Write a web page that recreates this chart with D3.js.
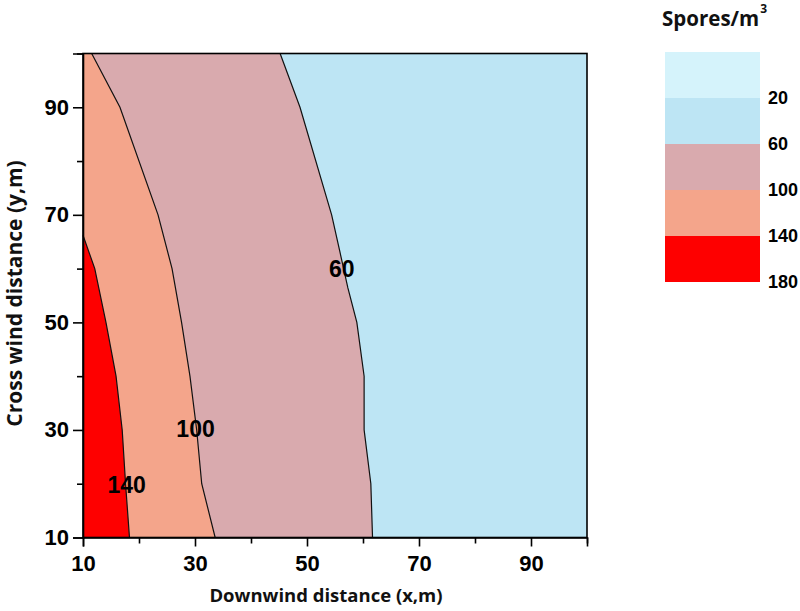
<!DOCTYPE html>
<html>
<head>
<meta charset="utf-8">
<script src="https://cdn.jsdelivr.net/npm/d3@7"></script>
<style>
  html, body { margin: 0; padding: 0; background: #ffffff; }
  svg { display: block; }
</style>
</head>
<body>
<svg id="chart" width="800" height="611"></svg>
<script>
// ---- data ----
const xTickValues = [10, 30, 50, 70, 90];
const xMinorTicks = [20, 40, 60, 80, 100];
const yTickValues = [10, 30, 50, 70, 90];
const yMinorTicks = [20, 40, 60, 80, 100];

const levels = [60, 100, 140];
const legendBreaks = [20, 60, 100, 140, 180];
const bandColors = ["#d5f3fb", "#bde5f4", "#d9aaae", "#f4a58b", "#fe0000"];

// contour boundaries [x (downwind m), y (cross wind m)]
const contour60 = [[45.2,100],[48.75,90],[54.4,70],[55.9,63],[57.3,56.4],[58.9,50],[60.2,40],[60.2,30],[61.4,20],[61.7,10]];
const contour100 = [[11.55,100],[16.6,90],[23.4,70],[25.9,60],[27.6,50],[29.1,40],[30.3,30],[31.2,20],[33.6,10]];
const contour140 = [[10,66.2],[12.1,60],[14.1,50],[15.9,40],[17.0,30],[17.6,20],[18.3,10]];
const contourLabels = [
  {text: "60", x: 56.2, y: 60.0},
  {text: "100", x: 30.1, y: 30.2},
  {text: "140", x: 17.8, y: 19.8}
];

// ---- layout ----
const svg = d3.select("#chart");
const pL = 83, pT = 53.5, pR = 587, pB = 537.5;

const x = d3.scaleLinear().domain([10, 100]).range([pL, pR]);
const y = d3.scaleLinear().domain([10, 100]).range([pB, pT]);

const line = d3.line().x(d => x(d[0])).y(d => y(d[1]));

// background band (20-60)
svg.append("rect")
  .attr("x", x(10)).attr("y", y(100))
  .attr("width", x(100) - x(10)).attr("height", y(10) - y(100))
  .attr("fill", bandColors[1]);

// filled regions (>= level)
const regions = [
  {pts: contour60.concat([[10,10],[10,100]]), color: bandColors[2]},
  {pts: contour100.concat([[10,10],[10,100]]), color: bandColors[3]},
  {pts: contour140.concat([[10,10]]), color: bandColors[4]}
];
svg.selectAll("path.region").data(regions).enter().append("path")
  .attr("class", "region")
  .attr("d", d => line(d.pts) + "Z")
  .attr("fill", d => d.color)
  .attr("stroke", "none");

// contour lines
svg.selectAll("path.cline").data([contour60, contour100, contour140]).enter().append("path")
  .attr("class", "cline")
  .attr("d", d => line(d))
  .attr("fill", "none")
  .attr("stroke", "#111")
  .attr("stroke-width", 1.2);

// contour labels
svg.selectAll("text.clabel").data(contourLabels).enter().append("text")
  .attr("class", "clabel")
  .attr("x", d => x(d.x)).attr("y", d => y(d.y))
  .attr("text-anchor", "middle")
  .attr("dominant-baseline", "central")
  .attr("font-family", "Liberation Sans, Arial, sans-serif")
  .attr("font-weight", "bold")
  .attr("font-size", 23)
  .attr("fill", "#000")
  .text(d => d.text);

// frame
svg.append("rect")
  .attr("x", pL).attr("y", pT)
  .attr("width", pR - pL).attr("height", pB - pT)
  .attr("fill", "none").attr("stroke", "#000").attr("stroke-width", 1.6);

// axes
const tickFont = g => g.selectAll("text")
  .attr("font-family", "Liberation Sans, Arial, sans-serif")
  .attr("font-weight", "bold")
  .attr("font-size", 22)
  .attr("fill", "#000");

const xAxis = svg.append("g").attr("transform", `translate(0,${pB})`)
  .call(d3.axisBottom(x).tickValues(xTickValues).tickSize(9).tickPadding(9).tickFormat(d3.format("d")));
xAxis.select(".domain").attr("stroke-width", 1.6);
xAxis.selectAll(".tick line").attr("stroke-width", 1.6);
xAxis.call(tickFont);

const xMinor = svg.append("g").attr("transform", `translate(0,${pB})`)
  .call(d3.axisBottom(x).tickValues(xMinorTicks).tickSize(6).tickFormat(""));
xMinor.select(".domain").remove();
xMinor.selectAll(".tick line").attr("stroke-width", 1.6);

const yAxis = svg.append("g").attr("transform", `translate(${pL},0)`)
  .call(d3.axisLeft(y).tickValues(yTickValues).tickSize(10).tickPadding(4).tickFormat(d3.format("d")));
yAxis.select(".domain").attr("stroke-width", 1.6);
yAxis.selectAll(".tick line").attr("stroke-width", 1.6);
yAxis.call(tickFont);

const yMinor = svg.append("g").attr("transform", `translate(${pL},0)`)
  .call(d3.axisLeft(y).tickValues(yMinorTicks).tickSize(6).tickFormat(""));
yMinor.select(".domain").remove();
yMinor.selectAll(".tick line").attr("stroke-width", 1.6);

// axis titles
svg.append("text")
  .attr("x", 326).attr("y", 602)
  .attr("text-anchor", "middle")
  .attr("font-family", "Open Sans, sans-serif")
  .attr("font-weight", "bold")
  .attr("font-size", 18.5)
  .attr("fill", "#111")
  .text("Downwind distance (x,m)");

svg.append("text")
  .attr("transform", `translate(22,${(150 + 437) / 2}) rotate(-90)`)
  .attr("text-anchor", "middle")
  .attr("font-family", "Open Sans, sans-serif")
  .attr("font-weight", "bold")
  .attr("font-size", 21)
  .attr("fill", "#111")
  .text("Cross wind distance (y,m)");

// ---- legend ----
const ly = d3.scaleLinear().domain([-20, 180]).range([52, 282]);
const bands = [-20].concat(legendBreaks);
const legendBands = bandColors.map((c, i) => ({lo: bands[i], hi: bands[i + 1], color: c}));
svg.selectAll("rect.lband").data(legendBands).enter().append("rect")
  .attr("class", "lband")
  .attr("x", 665).attr("width", 95)
  .attr("y", d => ly(d.lo)).attr("height", d => ly(d.hi) - ly(d.lo))
  .attr("fill", d => d.color);

svg.selectAll("text.llabel").data(legendBreaks).enter().append("text")
  .attr("class", "llabel")
  .attr("x", 768).attr("y", d => ly(d))
  .attr("dominant-baseline", "central")
  .attr("font-family", "Liberation Sans, Arial, sans-serif")
  .attr("font-weight", "bold")
  .attr("font-size", 18)
  .attr("fill", "#000")
  .text(d => d);

const lt = svg.append("text")
  .attr("x", 662).attr("y", 26)
  .attr("font-family", "Open Sans, sans-serif")
  .attr("font-weight", "bold")
  .attr("font-size", 20.5)
  .attr("fill", "#111");
lt.append("tspan").text("Spores/m");
lt.append("tspan").attr("dy", -13).attr("dx", 1).attr("font-size", 12).text("3");
</script>
</body>
</html>
